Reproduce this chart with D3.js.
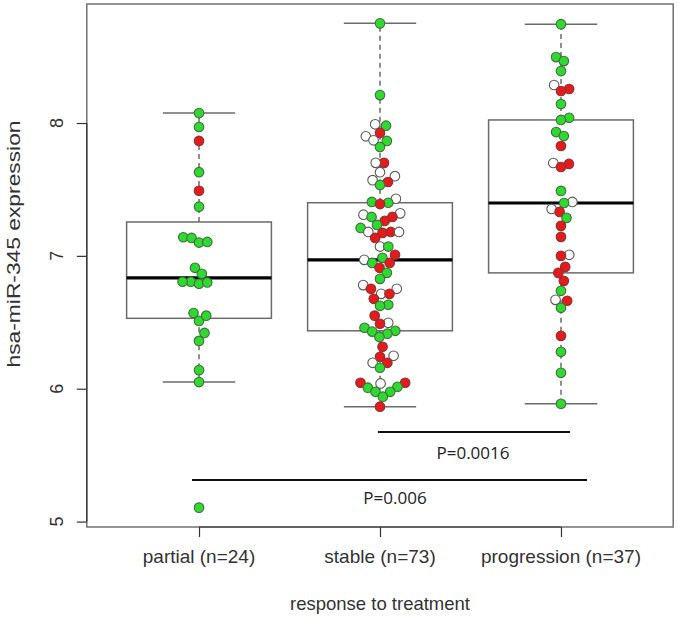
<!DOCTYPE html>
<html>
<head>
<meta charset="utf-8">
<script src="https://cdn.jsdelivr.net/npm/d3@7"></script>
<style>
  html, body { margin: 0; padding: 0; background: #fff; }
  svg { display: block; }
</style>
</head>
<body>
<div id="chart"></div>
<script>
// -- Data ----------------------------------------------------------
var categories = ["partial (n=24)", "stable (n=73)", "progression (n=37)"];
var yTicks = [5, 6, 7, 8];

// g = green, r = red, w = white (open)
var partialValues = [8.075, 7.97, 7.865, 7.63, 7.49, 7.37, 7.14, 7.135, 7.10, 7.105,
  6.91, 6.865, 6.805, 6.805, 6.79, 6.80, 6.57, 6.51, 6.55, 6.42, 6.36, 6.14, 6.05, 5.105];
var partialColors = ["g","g","r","g","r","g","g","g","g","g",
  "g","g","g","g","g","g","g","g","g","g","g","g","g","g"];

var stableValues = [8.75, 8.21, 7.99, 7.98, 7.925, 7.90, 7.87, 7.865, 7.82, 7.70,
  7.70, 7.63, 7.60, 7.57, 7.556, 7.534, 7.43, 7.406, 7.40, 7.39,
  7.32, 7.31, 7.293, 7.293, 7.263, 7.233, 7.21, 7.18, 7.18, 7.173,
  7.18, 7.135, 7.07, 7.07, 7.008, 6.985, 6.97, 6.947, 6.947, 6.91,
  6.872, 6.827, 6.78, 6.752, 6.752, 6.714, 6.714, 6.677, 6.632, 6.624,
  6.55, 6.496, 6.489, 6.459, 6.436, 6.43, 6.414, 6.39, 6.316, 6.248,
  6.24, 6.195, 6.195, 6.158, 6.045, 6.045, 6.04, 6.015, 6.008, 5.977,
  5.977, 5.94, 5.865];
var stableColors = ["g","g","w","g","r","w","w","g","g","r",
  "w","w","w","w","r","g","w","g","g","r",
  "w","w","g","r","r","g","g","r","w","r",
  "w","r","w","g","r","g","w","g","r","r",
  "g","g","w","r","w","w","r","r","g","g",
  "r","w","r","g","g","g","g","g","r","w",
  "r","r","w","g","r","r","w","g","g","g",
  "g","g","r"];

var progressionValues = [8.744, 8.496, 8.466, 8.391, 8.286, 8.256, 8.241, 8.143, 8.039, 8.023,
  7.932, 7.902, 7.827, 7.699, 7.692, 7.669, 7.489, 7.406, 7.398, 7.353,
  7.331, 7.286, 7.226, 7.143, 7.008, 7.0, 6.917, 6.872, 6.812, 6.737,
  6.669, 6.662, 6.609, 6.398, 6.278, 6.12, 5.887];
var progressionColors = ["g","g","g","g","w","r","r","g","g","g",
  "g","g","r","w","r","r","g","w","g","w",
  "r","g","r","r","w","r","r","r","r","g",
  "w","r","g","r","g","g","g"];

var pValues = [
  { from: 2, to: 3, label: "P=0.0016" },
  { from: 1, to: 3, label: "P=0.006" }
];

var groups = [
  { values: partialValues, colors: partialColors },
  { values: stableValues, colors: stableColors },
  { values: progressionValues, colors: progressionColors }
];

var FILL = { g: "#2fd92f", r: "#e41b1c", w: "#ffffff" };
var STROKE = { g: "#3f6f3f", r: "#8d3030", w: "#5a5a5a" };

// -- Helpers -------------------------------------------------------
function fivenum(arr) {
  var x = arr.slice().sort(d3.ascending), n = x.length;
  var n4 = Math.floor((n + 3) / 2) / 2;
  var d = [1, n4, (n + 1) / 2, n + 1 - n4, n];
  return d.map(function (k) {
    return 0.5 * (x[Math.floor(k) - 1] + x[Math.ceil(k) - 1]);
  });
}

// beeswarm "swarm" placement, in pixels (ellipse spacing xs, ys)
function swarm(pys, xs, ys) {
  var order = d3.range(pys.length).sort(function (a, b) { return pys[b] - pys[a]; });
  var placed = [], out = new Array(pys.length);
  order.forEach(function (i) {
    var py = pys[i], cands = [0];
    placed.forEach(function (p) {
      var dy = (p.y - py) / ys;
      if (Math.abs(dy) < 1) {
        var dx = xs * Math.sqrt(1 - dy * dy);
        cands.push(p.x + dx, p.x - dx);
      }
    });
    cands.sort(function (a, b) { return Math.abs(a) - Math.abs(b); });
    var best = 0;
    for (var c = 0; c < cands.length; c++) {
      var ok = placed.every(function (p) {
        var ex = (p.x - cands[c]) / xs, ey = (p.y - py) / ys;
        return ex * ex + ey * ey >= 1 - 1e-6;
      });
      if (ok) { best = cands[c]; break; }
    }
    placed.push({ x: best, y: py });
    out[i] = best;
  });
  return out;
}

// -- Render --------------------------------------------------------
var W = 678, H = 617;
var svg = d3.select("#chart").append("svg").attr("width", W).attr("height", H);

var allVals = [].concat(partialValues, stableValues, progressionValues);
var lo = d3.min(allVals), hi = d3.max(allVals), pad = (hi - lo) * 0.04;

var x = d3.scaleLinear().domain([0.38, 3.62]).range([86.8, 673.2]);
var y = d3.scaleLinear().domain([lo - pad, hi + pad]).range([527, 4]);

var font = "'Liberation Sans', Arial, Helvetica, sans-serif";
var boxHalf = 0.4, capHalf = 0.2;

// boxes
groups.forEach(function (g, i) {
  var s = fivenum(g.values), c = i + 1;
  var iqr = s[3] - s[1];
  var upW = d3.max(g.values.filter(function (v) { return v <= s[3] + 1.5 * iqr; }));
  var loW = d3.min(g.values.filter(function (v) { return v >= s[1] - 1.5 * iqr; }));
  var bg = svg.append("g").attr("stroke", "#6b6b6b").attr("stroke-width", 1.5).attr("fill", "none");

  bg.append("line").attr("x1", x(c)).attr("x2", x(c)).attr("y1", y(s[3])).attr("y2", y(upW))
    .attr("stroke-dasharray", "5,4");
  bg.append("line").attr("x1", x(c)).attr("x2", x(c)).attr("y1", y(s[1])).attr("y2", y(loW))
    .attr("stroke-dasharray", "5,4");
  bg.append("line").attr("x1", x(c - capHalf)).attr("x2", x(c + capHalf)).attr("y1", y(upW)).attr("y2", y(upW));
  bg.append("line").attr("x1", x(c - capHalf)).attr("x2", x(c + capHalf)).attr("y1", y(loW)).attr("y2", y(loW));
  bg.append("rect").attr("x", x(c - boxHalf)).attr("y", y(s[3]))
    .attr("width", x(c + boxHalf) - x(c - boxHalf)).attr("height", y(s[1]) - y(s[3]));
  bg.append("line").attr("x1", x(c - boxHalf)).attr("x2", x(c + boxHalf))
    .attr("y1", y(s[2])).attr("y2", y(s[2])).attr("stroke", "#000").attr("stroke-width", 3.2);
});

// points
groups.forEach(function (g, i) {
  var pys = g.values.map(function (v) { return y(v); });
  var offs = swarm(pys, 8.3, 10.6);
  svg.append("g").selectAll("circle")
    .data(g.values.map(function (v, k) { return { v: v, c: g.colors[k], o: offs[k] }; }))
    .join("circle")
      .attr("cx", function (d) { return x(i + 1) + d.o; })
      .attr("cy", function (d) { return y(d.v); })
      .attr("r", 4.8)
      .attr("fill", function (d) { return FILL[d.c]; })
      .attr("stroke", function (d) { return STROKE[d.c]; })
      .attr("stroke-width", 1.1);
});

// frame
svg.append("rect")
  .attr("x", x.range()[0]).attr("y", y.range()[1])
  .attr("width", x.range()[1] - x.range()[0]).attr("height", y.range()[0] - y.range()[1])
  .attr("fill", "none").attr("stroke", "#7a7a7a").attr("stroke-width", 1.6);

// y axis
var ya = svg.append("g").attr("transform", "translate(" + x.range()[0] + ",0)")
  .call(d3.axisLeft(y).tickValues(yTicks).tickSize(10).tickFormat(""));
ya.select(".domain").remove();
ya.selectAll(".tick line").attr("stroke", "#333").attr("stroke-width", 1.2);
ya.append("line").attr("y1", y(yTicks[0])).attr("y2", y(yTicks[yTicks.length - 1]))
  .attr("stroke", "#333").attr("stroke-width", 1.2);
yTicks.forEach(function (t) {
  svg.append("text")
    .attr("transform", "translate(63," + y(t) + ") rotate(-90)")
    .attr("text-anchor", "middle")
    .attr("font-family", font).attr("font-size", "18px").attr("fill", "#333")
    .text(t);
});

// x axis
var xa = svg.append("g").attr("transform", "translate(0," + y.range()[0] + ")")
  .call(d3.axisBottom(x).tickValues([1, 2, 3]).tickSize(10).tickFormat(""));
xa.select(".domain").remove();
xa.selectAll(".tick line").attr("stroke", "#333").attr("stroke-width", 1.2);
xa.append("line").attr("x1", x(1)).attr("x2", x(3)).attr("stroke", "#333").attr("stroke-width", 1.2);
categories.forEach(function (c, i) {
  svg.append("text")
    .attr("x", x(i + 1)).attr("y", 563)
    .attr("text-anchor", "middle")
    .attr("font-family", font).attr("font-size", "19px").attr("fill", "#333")
    .text(c);
});

// axis titles
svg.append("text")
  .attr("x", x(2)).attr("y", 610)
  .attr("text-anchor", "middle")
  .attr("font-family", font).attr("font-size", "18.5px").attr("fill", "#333")
  .text("response to treatment");
svg.append("text")
  .attr("transform", "translate(20,244) rotate(-90)")
  .attr("text-anchor", "middle")
  .attr("font-family", font).attr("font-size", "18.5px").attr("fill", "#333")
  .attr("textLength", 247).attr("lengthAdjust", "spacingAndGlyphs")
  .text("hsa-miR-345 expression");

// significance bars
var barY = [432, 480], labY = [459, 504];
var barX = [[378, 570], [192, 587]];
pValues.forEach(function (p, k) {
  svg.append("line")
    .attr("x1", barX[k][0]).attr("x2", barX[k][1])
    .attr("y1", barY[k]).attr("y2", barY[k])
    .attr("stroke", "#111").attr("stroke-width", 2);
});
svg.append("text").attr("x", 473).attr("y", labY[0]).attr("text-anchor", "middle")
  .attr("font-family", "'Open Sans', 'Noto Sans', sans-serif").attr("font-size", "17px").attr("fill", "#222")
  .text(pValues[0].label);
svg.append("text").attr("x", 395).attr("y", labY[1]).attr("text-anchor", "middle")
  .attr("font-family", "'Open Sans', 'Noto Sans', sans-serif").attr("font-size", "17px").attr("fill", "#222")
  .text(pValues[1].label);
</script>
</body>
</html>
